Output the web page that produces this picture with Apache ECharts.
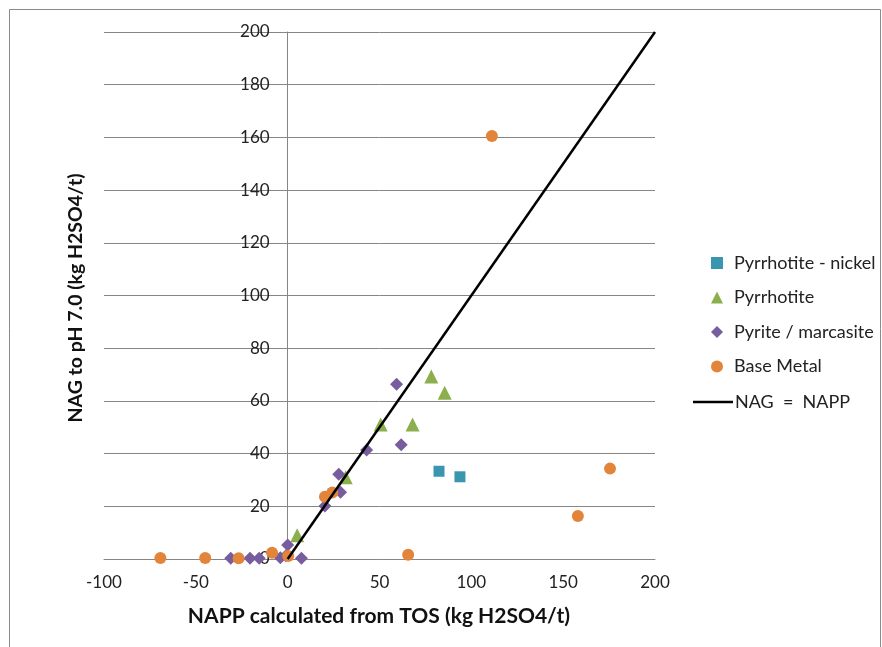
<!DOCTYPE html>
<html lang="en">
<head>
    <meta charset="UTF-8">
    <title>NAG vs NAPP</title>
    <script src="https://cdn.jsdelivr.net/npm/echarts@6/dist/echarts.min.js"></script>
    <style>
        body { margin: 0; background: #fff; }
        #main { width: 882px; height: 647px; }
    </style>
</head>
<body>
<div id="main"></div>
<script>
    // 数据：[NAPP, NAG]
    var pyrrhotiteNickel = [[82.4, 33.3], [93.8, 31.2]];
    var pyrrhotite = [[5.2, 9], [31.6, 31], [50.6, 51], [68, 51], [78.2, 69.3], [85.5, 63.1]];
    var pyriteMarcasite = [
        [-31, 0.3], [-20.5, 0.3], [-15.5, 0.3], [-4, 0.5], [-1, 1.2], [0, 5.3], [7.5, 0.3],
        [20.3, 20.1], [27.8, 32.2], [28.8, 25.3], [43, 41.4], [59.3, 66.3], [61.8, 43.4]
    ];
    var baseMetal = [
        [-69.3, 0.4], [-44.9, 0.4], [-26.7, 0.3], [-8.5, 2.4], [0.3, 1.1],
        [20.3, 23.6], [24.3, 25.2], [65.6, 1.6], [111.2, 160.5], [158, 16.3], [175.5, 34.3]
    ];
    var oneToOne = [[0, 0], [200, 200]];

    var myChart = echarts.init(document.getElementById('main'));
    var font = 'Lato, "Open Sans", sans-serif';

    var option = {
        animation: false,
        textStyle: { fontFamily: font },
        grid: { left: 104, right: 227, top: 32, bottom: 88 },
        graphic: [
            // 外框
            { type: 'rect', shape: { x: 9.5, y: 9.5, width: 871, height: 700 },
              style: { fill: null, stroke: '#8a8a8a', lineWidth: 1 } },
            { type: 'text', x: 379, y: 616,
              style: { text: 'NAPP calculated from TOS (kg H2SO4/t)', fontFamily: font, fontSize: 21,
                       fontWeight: 'bold', fill: '#111', align: 'center', verticalAlign: 'middle' } },
            { type: 'text', x: 76, y: 298, rotation: Math.PI / 2,
              style: { text: 'NAG to pH 7.0 (kg H2SO4/t)', fontFamily: font, fontSize: 19.5,
                       fontWeight: 'bold', fill: '#111', align: 'center', verticalAlign: 'middle' } }
        ],
        legend: [
            {
                orient: 'vertical', left: 706, top: 249, itemGap: 16.5,
                itemWidth: 12, itemHeight: 12,
                data: ['Pyrrhotite - nickel', 'Pyrrhotite', 'Pyrite / marcasite', 'Base Metal'],
                textStyle: { fontFamily: font, fontSize: 18, color: '#222', padding: [0, 0, 0, 6] }
            },
            {
                orient: 'vertical', left: 688, top: 388,
                itemWidth: 40, itemHeight: 2.5, icon: 'rect',
                data: ['NAG  =  NAPP'],
                textStyle: { fontFamily: font, fontSize: 18, color: '#222', padding: [0, 0, 0, -3] }
            }
        ],
        xAxis: {
            type: 'value', min: -100, max: 200, interval: 50,
            axisLine: { lineStyle: { color: '#868686' } },
            axisTick: { show: false },
            axisLabel: { fontSize: 17, color: '#222', margin: 15, fontFamily: font },
            splitLine: { show: false }
        },
        yAxis: {
            type: 'value', min: 0, max: 200, interval: 20,
            offset: -183.7,
            axisLine: { show: true, onZero: false, lineStyle: { color: '#868686' } },
            axisTick: { show: false },
            axisLabel: { fontSize: 17, color: '#222', margin: 18, fontFamily: font },
            splitLine: { lineStyle: { color: '#868686', width: 1 } }
        },
        series: [
            { name: 'Pyrrhotite - nickel', type: 'scatter', symbol: 'rect', symbolSize: 11,
              itemStyle: { color: '#3A96AE', opacity: 1 }, data: pyrrhotiteNickel, z: 3 },
            { name: 'Pyrrhotite', type: 'scatter', symbol: 'triangle', symbolSize: 14,
              itemStyle: { color: '#8CAF4E', opacity: 1 }, data: pyrrhotite, z: 3 },
            { name: 'Pyrite / marcasite', type: 'scatter', symbol: 'diamond', symbolSize: 13,
              itemStyle: { color: '#785D9E', opacity: 1 }, data: pyriteMarcasite, z: 3 },
            { name: 'Base Metal', type: 'scatter', symbol: 'circle', symbolSize: 12,
              itemStyle: { color: '#E2853A', opacity: 1 }, data: baseMetal, z: 3 },
            { name: 'NAG  =  NAPP', type: 'line', symbol: 'none', data: oneToOne, z: 4,
              lineStyle: { color: '#000', width: 2.5 }, itemStyle: { color: '#000' } }
        ]
    };
    myChart.setOption(option);
</script>
</body>
</html>
